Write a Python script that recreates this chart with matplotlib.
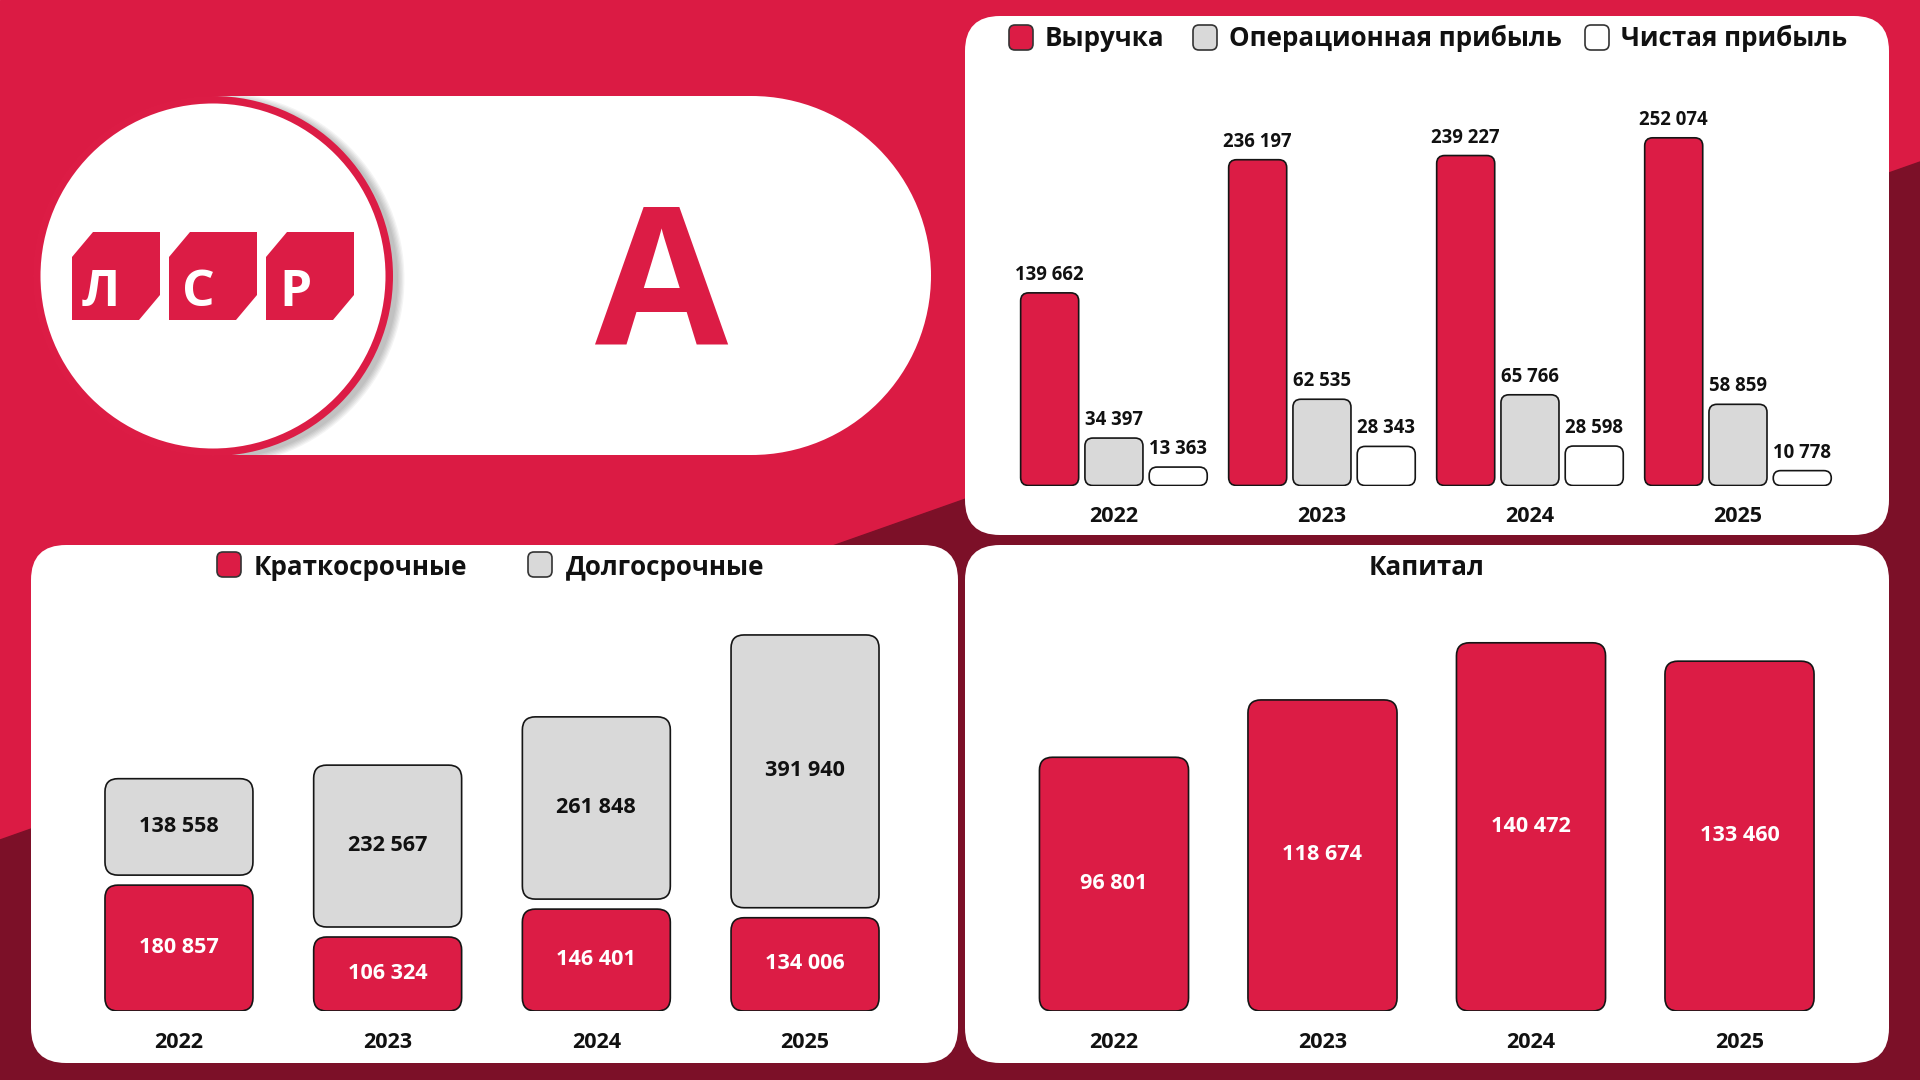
import matplotlib
matplotlib.use("Agg")
import matplotlib.pyplot as plt
import numpy as np
from matplotlib.patches import FancyBboxPatch, Circle, Polygon, Rectangle

# ---------------- data ----------------
years = ["2022", "2023", "2024", "2025"]
revenue = [139662, 236197, 239227, 252074]
op_profit = [34397, 62535, 65766, 58859]
net_profit = [13363, 28343, 28598, 10778]
short_term = [180857, 106324, 146401, 134006]
long_term = [138558, 232567, 261848, 391940]
capital = [96801, 118674, 140472, 133460]

legend_top = ["Выручка", "Операционная прибыль", "Чистая прибыль"]
legend_debt = ["Краткосрочные", "Долгосрочные"]
title_cap = "Капитал"
logo_letters = ["Л", "С", "Р"]
bank_letter = "A"

# ---------------- style ----------------
RED = "#DC1C45"
BG_RED = "#DB1B44"
DARK = "#7C1028"
GRAY = "#D9D9D9"
EDGE = "#151515"
W, H = 1920, 1080
plt.rcParams["font.family"] = ["Open Sans", "DejaVu Sans"]
plt.rcParams["font.weight"] = "bold"

fig = plt.figure(figsize=(19.2, 10.8), dpi=100)
bg = fig.add_axes([0, 0, 1, 1])
bg.set_xlim(0, W)
bg.set_ylim(H, 0)
bg.axis("off")
bg.add_patch(Rectangle((0, 0), W, H, color=BG_RED, zorder=0))
bg.add_patch(Polygon([(0, 840), (W, 162), (W, H), (0, H)], closed=True, color=DARK, zorder=0.5))


def panel(x0, y0, x1, y1, r=35):
    bg.add_patch(FancyBboxPatch((x0, y0), x1 - x0, y1 - y0,
                                boxstyle=f"round,pad=0,rounding_size={r}",
                                fc="white", ec="none", zorder=1))


panel(965, 16, 1889, 535)
panel(31, 545, 958, 1063)
panel(965, 545, 1889, 1063)

# banner pill: rectangle + true semicircular right end
pill_r = 179.5
pill_rect = Rectangle((213, 96), 931 - pill_r - 213, 2 * pill_r, fc="white", ec="none", zorder=1)
bg.add_patch(pill_rect)
bg.add_patch(Circle((931 - pill_r, 96 + pill_r), pill_r, fc="white", ec="none", zorder=1))
# soft circle shadow, visible only over the white banner
for i in range(6):
    sh = Circle((218, 279), 180 + i * 1.3, color="black", alpha=0.045, zorder=1.2, lw=0)
    bg.add_patch(sh)
    sh.set_clip_path(pill_rect)
bg.add_patch(Circle((213, 276), 180, color=RED, zorder=1.5, lw=0))
bg.add_patch(Circle((213, 276), 172.5, color="white", zorder=1.6, lw=0))

# ЛСР logo boxes
for i, letter in enumerate(logo_letters):
    x0 = 72 + i * 97
    x1 = x0 + 88
    y0, y1 = 232, 320
    cx, cy = 21, 25
    bg.add_patch(Polygon([(x0, y0 + cy), (x0 + cx, y0), (x1, y0), (x1, y1 - cy),
                          (x1 - cx, y1), (x0, y1)], closed=True, color=RED, zorder=2, lw=0))
    bg.text(x0 + 29, 306, letter, color="white", fontsize=37, fontweight="bold",
            ha="center", va="baseline", zorder=3)

bg.text(662, 345, bank_letter, color=RED, fontsize=139, fontweight="bold",
        ha="center", va="baseline", zorder=3)


def legend_item(x, y_top, color, label, text_x, baseline):
    bg.add_patch(FancyBboxPatch((x, y_top), 24, 25, boxstyle="round,pad=0,rounding_size=6",
                                fc=color, ec="#333333", lw=1.2, zorder=3))
    bg.text(text_x, baseline, label, fontsize=18.7, fontweight="bold", color="#111111",
            ha="left", va="baseline", zorder=3)


legend_item(1009, 25, RED, legend_top[0], 1045, 46.5)
legend_item(1193, 25, GRAY, legend_top[1], 1229, 46.5)
legend_item(1585, 25, "white", legend_top[2], 1621, 46.5)
legend_item(217, 552, RED, legend_debt[0], 254, 575)
legend_item(528, 552, GRAY, legend_debt[1], 566, 575)
bg.text(1427, 575, title_cap, fontsize=18.7, fontweight="bold", color="#111111",
        ha="center", va="baseline", zorder=3)


def make_axes(px0, px1, py_bottom, py_top, xlim, units_per_px):
    ax = fig.add_axes([px0 / W, (H - py_bottom) / H, (px1 - px0) / W, (py_bottom - py_top) / H])
    ax.set_xlim(*xlim)
    ax.set_ylim(0, (py_bottom - py_top) * units_per_px)
    ax.axis("off")
    ax.patch.set_alpha(0)
    ax._pxw = px1 - px0
    ax._pxh = py_bottom - py_top
    return ax


def round_bars(ax, bars, r_px, lw=1.2):
    x0, x1 = ax.get_xlim()
    y0, y1 = ax.get_ylim()
    xpp = (x1 - x0) / ax._pxw
    ypp = (y1 - y0) / ax._pxh
    for b in bars:
        x, y, w, h = b.get_x(), b.get_y(), b.get_width(), b.get_height()
        r = min(r_px, w / xpp / 2, h / ypp / 2)
        p = FancyBboxPatch((x, y), w, h, boxstyle=f"round,pad=0,rounding_size={r * xpp}",
                           mutation_aspect=ypp / xpp, fc=b.get_facecolor(), ec=EDGE, lw=lw,
                           zorder=3)
        ax.add_patch(p)
        b.set_visible(False)


def fmt(v):
    return f"{v:,}".replace(",", " ")


def inner_label(ax, x, y, s, color):
    ax.annotate(s, (x, y), xytext=(0, 3), textcoords="offset pixels", ha="center",
                va="center_baseline", fontsize=15.6, fontweight="bold", color=color, zorder=5)


idx = np.arange(len(years))

# ---------------- top chart ----------------
ax1 = make_axes(965, 1889, 485.5, 85.5, (-0.716, 3.726), 725)
bw, off = 0.279, 0.309
for vals, color, dx in [(revenue, RED, -off), (op_profit, GRAY, 0), (net_profit, "white", off)]:
    bars = ax1.bar(idx + dx, vals, bw, color=color)
    round_bars(ax1, bars, 8)
    for xi, v in zip(idx + dx, vals):
        ax1.annotate(fmt(v), (xi, v), xytext=(0, 13), textcoords="offset pixels",
                     ha="center", va="baseline", fontsize=13.4, fontweight="bold", color="#111111")
for xi, yl in zip(idx, years):
    ax1.annotate(yl, (xi, 0), xytext=(0, -37), textcoords="offset pixels",
                 ha="center", va="baseline", fontsize=15.6, fontweight="bold", color="#111111")

# ---------------- debt chart ----------------
ax2 = make_axes(31, 958, 1011, 601, (-0.709, 3.733), 1436.8)
gap = 10 * 1436.8
bw2 = 0.709
b_short = ax2.bar(idx, short_term, bw2, color=RED)
bottoms = [s + gap for s in short_term]
b_long = ax2.bar(idx, long_term, bw2, bottom=bottoms, color=GRAY)
round_bars(ax2, b_short, 13)
round_bars(ax2, b_long, 13)
for xi, s, l, b in zip(idx, short_term, long_term, bottoms):
    inner_label(ax2, xi, s / 2, fmt(s), "white")
    inner_label(ax2, xi, b + l / 2, fmt(l), "#111111")
for xi, yl in zip(idx, years):
    ax2.annotate(yl, (xi, 0), xytext=(0, -37), textcoords="offset pixels",
                 ha="center", va="baseline", fontsize=15.6, fontweight="bold", color="#111111")

# ---------------- capital chart ----------------
ax3 = make_axes(965, 1889, 1011, 601, (-0.7146, 3.717), 381.5)
b_cap = ax3.bar(idx, capital, 0.715, color=RED)
round_bars(ax3, b_cap, 13)
for xi, v in zip(idx, capital):
    inner_label(ax3, xi, v / 2, fmt(v), "white")
for xi, yl in zip(idx, years):
    ax3.annotate(yl, (xi, 0), xytext=(0, -37), textcoords="offset pixels",
                 ha="center", va="baseline", fontsize=15.6, fontweight="bold", color="#111111")

fig.savefig("out.png", dpi=100)
